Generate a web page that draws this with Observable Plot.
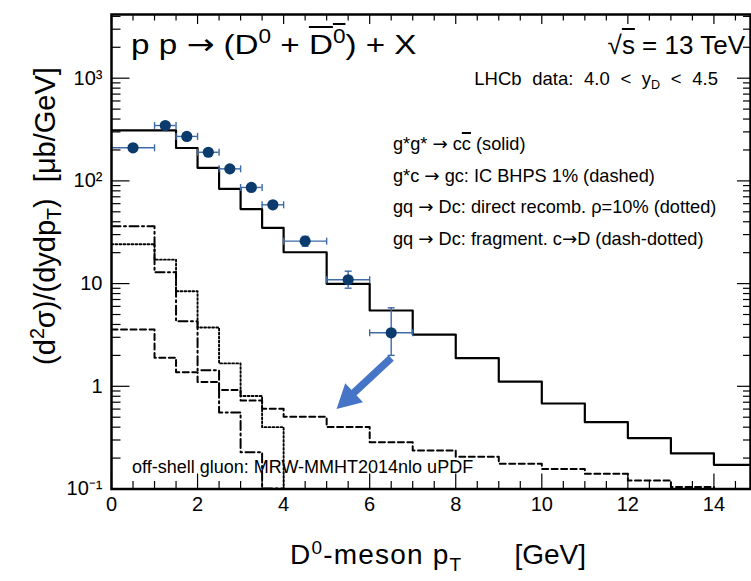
<!DOCTYPE html>
<html><head><meta charset="utf-8">
<script src="https://cdn.jsdelivr.net/npm/d3@7"></script>
<script src="https://cdn.jsdelivr.net/npm/@observablehq/plot@0.6"></script>
<style>
body{margin:0;background:#fff;}
#wrap{position:relative;width:751px;height:581px;overflow:hidden;font-family:"Liberation Sans",Arial,Helvetica,sans-serif;color:#000;}
.t{position:absolute;white-space:nowrap;line-height:1;}
sup{font-size:68%;vertical-align:0.55em;line-height:0;}
sub{font-size:68%;vertical-align:-0.35em;line-height:0;}
.ov{text-decoration:overline;text-decoration-thickness:1.5px;}
.ar{font-family:"DejaVu Sans",sans-serif;}
</style></head><body>
<div id="wrap">
  <div class="t" style="left:131px;top:29.5px;font-size:28.5px;transform:scaleX(1.165);transform-origin:0 0;">p p <span class="ar">→</span> (D<sup>0</sup> + <span class="ov">D<sup>0</sup></span>) + X</div>
  <div class="t" style="right:6px;top:31.5px;font-size:26px;">√<span class="ov">s</span> = 13 TeV</div>
  <div class="t" style="right:33px;top:69.5px;font-size:18.5px;word-spacing:5.5px;">LHCb data: 4.0 &lt; y<sub>D</sub> &lt; 4.5</div>
  <div class="t" style="left:393px;top:135px;font-size:18.2px;">g*g* <span class="ar">→</span> c<span class="ov">c</span> (solid)</div>
  <div class="t" style="left:393px;top:166.5px;font-size:18.2px;">g*c <span class="ar">→</span> gc: IC BHPS 1% (dashed)</div>
  <div class="t" style="left:393px;top:198px;font-size:18.2px;">gq <span class="ar">→</span> Dc: direct recomb. ρ=10% (dotted)</div>
  <div class="t" style="left:393px;top:229.5px;font-size:18.2px;">gq <span class="ar">→</span> Dc: fragment. c<span class="ar">→</span>D (dash-dotted)</div>
  <div class="t" style="left:132px;top:457.5px;font-size:18px;">off-shell gluon: MRW-MMHT2014nlo uPDF</div>
  <div class="t" style="left:290px;top:541px;font-size:28px;"><span style="letter-spacing:1.2px;">D<sup>0</sup>-meson p<sub>T</sub></span><span style="margin-left:52px;">[GeV]</span></div>
  <div class="t" style="left:45px;top:216px;font-size:29px;transform:translate(-50%,-50%) rotate(-90deg);">(d<sup>2</sup>σ)/(dydp<sub>T</sub>) &nbsp;[μb/GeV]</div>
</div>
<script>
// ---- data ----
const solidEdges  = [0,1.5,2,2.5,3,3.5,4,5,6,7,8,9,10,11,12,13,14,15];
const solidValues = [310,209,134,83.8,53.2,34.9,20.2,9.95,5.47,3.19,1.88,1.11,0.68,0.447,0.313,0.222,0.172];

const dashedEdges  = [0,1,1.5,2,2.5,3,3.5,4,5,6,7,8,9,10,11,12,13,14,15];
const dashedValues = [3.57,1.90,1.37,1.10,0.92,0.728,0.604,0.505,0.402,0.286,0.237,0.206,0.176,0.157,0.141,0.121,0.1046,0.08];

const dottedEdges  = [0,1,1.5,2,2.5,3,3.5,4,5];
const dottedValues = [24.2,17.1,8.43,3.74,1.67,0.805,0.40,0.05];

const dashDotEdges  = [0,1,1.5,2,2.5,3,3.5,4,5];
const dashDotValues = [36.2,12.9,4.30,1.43,0.556,0.228,0.101,0.05];

const lhcbX   = [0.5,1.25,1.75,2.25,2.75,3.25,3.75,4.5,5.5,6.5];
const lhcbY   = [210,346,271,190,131,86.3,58.5,25.9,10.9,3.32];
const lhcbXlo = [0,1,1.5,2,2.5,3,3.5,4,5,6];
const lhcbXhi = [1,1.5,2,2.5,3,3.5,4,5,6,7];
const lhcbYlo = [203,336,263,184,127,83.5,56.5,23.1,9.02,2.0];
const lhcbYhi = [217,356,279,196,135,89,60.5,28.8,13.2,5.81];

const arrowTail = [6.5, 1.89];
const arrowNeck = [5.57, 0.82];
const arrowTip  = [5.23, 0.60];

const xMajor = [0,2,4,6,8,10,12,14];
const xMinor = d3.range(0, 15, 0.5).filter(v => v % 2 !== 0);
const yMajor = [0.1,1,10,100,1000];
const yMajorLabels = ["10⁻¹","1","10","10²","10³"];
const yMinor = [0.1,1,10,100,1000].flatMap(d => [2,3,4,5,6,7,8,9].map(k => k*d)).filter(v => v < 4170);

// ---- build ----
function steps(edges, values){
  const pts = [];
  values.forEach((v,i) => { pts.push({x: edges[i], y: v}); pts.push({x: edges[i+1], y: v}); });
  return pts;
}
const pts = lhcbX.map((x,i) => ({x, y: lhcbY[i], xlo: lhcbXlo[i], xhi: lhcbXhi[i], ylo: lhcbYlo[i], yhi: lhcbYhi[i]}));

const W = 751, H = 581, mL = 111, mR = 1, mT = 14, mB = 92.5;
const FW = W - mL - mR, FH = H - mT - mB;

const vbar = {draw(ctx){ ctx.moveTo(0,-3.5); ctx.lineTo(0,3.5); }};
const hbar = {draw(ctx){ ctx.moveTo(-3.5,0); ctx.lineTo(3.5,0); }};
const head = {draw(ctx){ ctx.moveTo(0,0); ctx.lineTo(13,24); ctx.lineTo(-13,24); ctx.closePath(); }};

const errColor = "#3e6aa6", ptColor = "#0b3a6c", arrowColor = "#4674c6";

const chart = Plot.plot({
  width: W, height: H,
  marginLeft: mL, marginRight: mR, marginTop: mT, marginBottom: mB,
  style: {fontFamily: '"Liberation Sans", Arial, Helvetica, sans-serif', fontSize: "20px", color: "black", background: "white"},
  x: {domain: [0, 14.85]},
  y: {type: "log", domain: [0.1, 4170]},
  marks: [
    Plot.line(steps(solidEdges, solidValues), {x: "x", y: "y", stroke: "black", strokeWidth: 2.2, clip: true}),
    Plot.line(steps(dashedEdges, dashedValues), {x: "x", y: "y", stroke: "black", strokeWidth: 2, strokeDasharray: "6,3.5", clip: true}),
    Plot.line(steps(dottedEdges, dottedValues), {x: "x", y: "y", stroke: "black", strokeWidth: 1.9, strokeDasharray: "1.8,2.2", clip: true}),
    Plot.line(steps(dashDotEdges, dashDotValues), {x: "x", y: "y", stroke: "black", strokeWidth: 2, strokeDasharray: "9,3.5,2,3.5", clip: true}),
    // error bars
    Plot.ruleY(pts, {y: "y", x1: "xlo", x2: "xhi", stroke: errColor, strokeWidth: 1.4}),
    Plot.ruleX(pts, {x: "x", y1: "ylo", y2: "yhi", stroke: errColor, strokeWidth: 1.4}),
    Plot.dot(pts, {x: "xlo", y: "y", symbol: vbar, r: 3, stroke: errColor, strokeWidth: 1.4}),
    Plot.dot(pts, {x: "xhi", y: "y", symbol: vbar, r: 3, stroke: errColor, strokeWidth: 1.4}),
    Plot.dot(pts, {x: "x", y: "ylo", symbol: hbar, r: 3, stroke: errColor, strokeWidth: 1.4}),
    Plot.dot(pts, {x: "x", y: "yhi", symbol: hbar, r: 3, stroke: errColor, strokeWidth: 1.4}),
    Plot.dot(pts, {x: "x", y: "y", r: 5.6, fill: ptColor, stroke: "none"}),
    // arrow
    Plot.link([0], {x1: () => arrowTail[0], y1: () => arrowTail[1], x2: () => arrowNeck[0], y2: () => arrowNeck[1], stroke: arrowColor, strokeWidth: 7.5}),
    Plot.dot([0], {x: () => arrowTip[0], y: () => arrowTip[1], symbol: head, r: 5, fill: arrowColor, stroke: "none", rotate: 227}),
    // ticks (inside, ROOT style)
    Plot.ruleX(xMajor, {insetTop: FH - 15, stroke: "black", strokeWidth: 1.2}),
    Plot.ruleX(xMinor, {insetTop: FH - 7.5, stroke: "black", strokeWidth: 1.2}),
    Plot.ruleX(xMajor, {insetBottom: FH - 10, stroke: "black", strokeWidth: 1.2}),
    Plot.ruleX(xMinor, {insetBottom: FH - 6.5, stroke: "black", strokeWidth: 1.2}),
    Plot.ruleY(yMajor, {insetRight: FW - 18.5, stroke: "black", strokeWidth: 1.2}),
    Plot.ruleY(yMinor, {insetRight: FW - 9.5, stroke: "black", strokeWidth: 1.2}),
    Plot.ruleY(yMajor, {insetLeft: FW - 13, stroke: "black", strokeWidth: 1.2}),
    Plot.ruleY(yMinor, {insetLeft: FW - 7, stroke: "black", strokeWidth: 1.2}),
    Plot.axisX({ticks: xMajor, tickSize: 0, tickPadding: 8, label: null, fontSize: 20}),
    Plot.axisY({ticks: yMajor, tickFormat: d => yMajorLabels[yMajor.indexOf(d)], tickSize: 0, tickPadding: 9, label: null, fontSize: 20}),
    Plot.frame({stroke: "black", strokeWidth: 2.5})
  ]
});
chart.style.position = "absolute";
chart.style.left = "0px";
chart.style.top = "0px";
document.getElementById("wrap").prepend(chart);
</script>
</body></html>
